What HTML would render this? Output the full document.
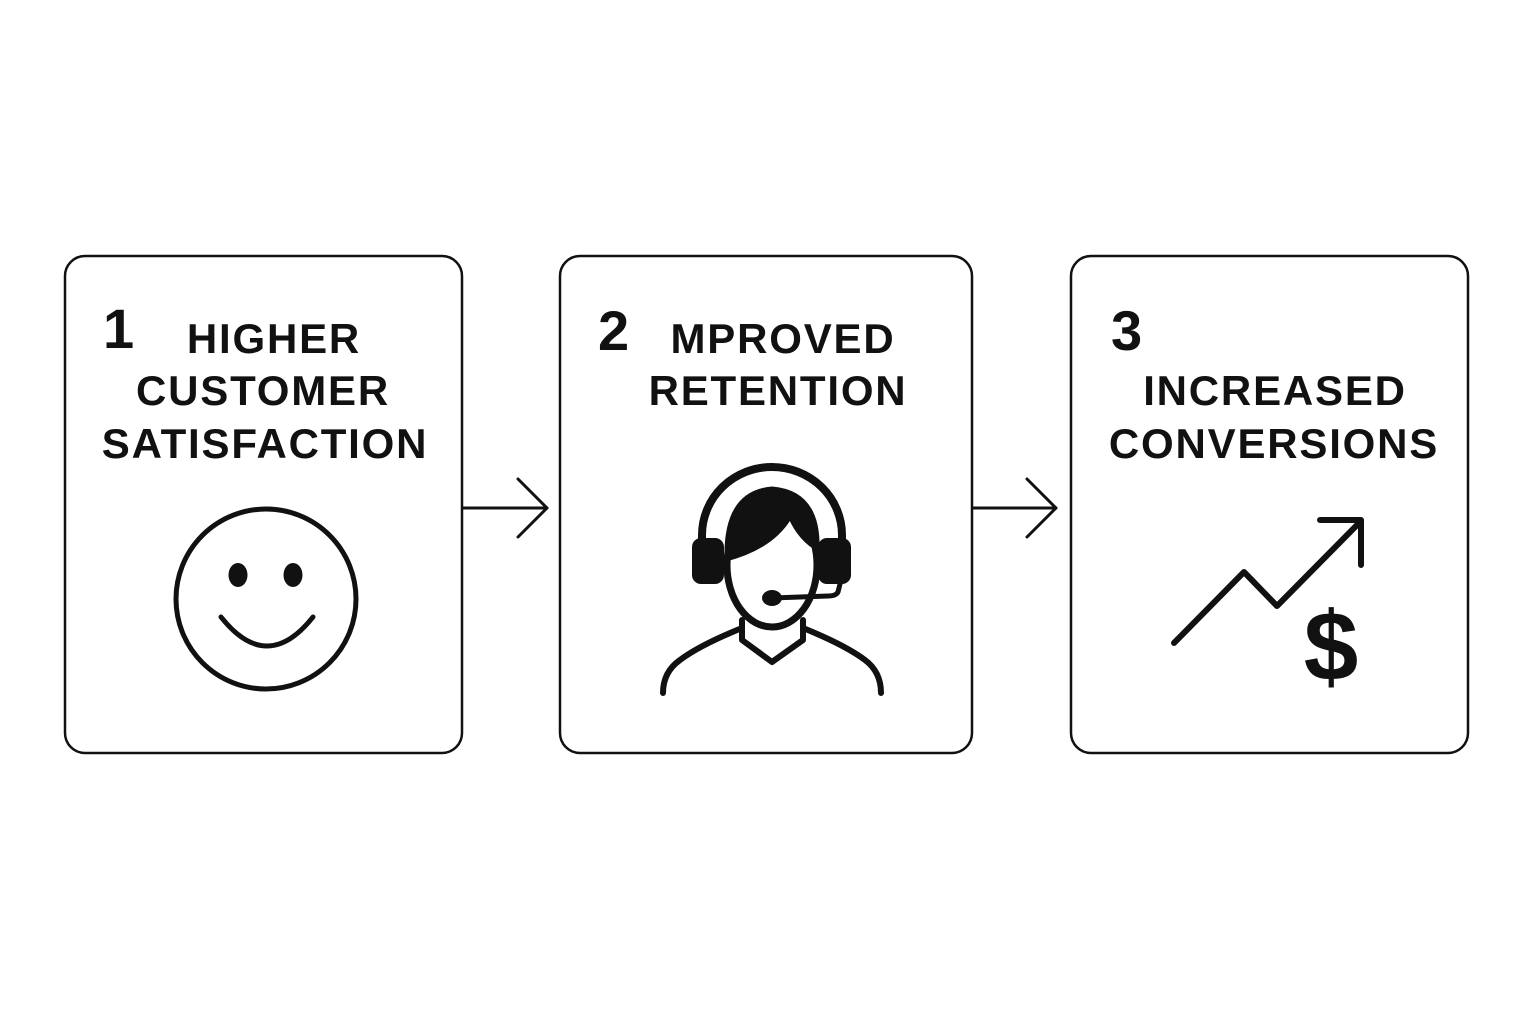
<!DOCTYPE html>
<html><head><meta charset="utf-8"><style>
html,body{margin:0;padding:0;background:#fff;}
svg{display:block;}
text{font-family:"Liberation Sans",Arial,sans-serif;font-weight:bold;fill:#111;}
</style></head><body>
<svg width="1536" height="1024" viewBox="0 0 1536 1024" xmlns="http://www.w3.org/2000/svg">
<rect width="1536" height="1024" fill="#fff"/>
<g fill="none" stroke="#111" stroke-width="2.5">
<rect x="65" y="256" width="397" height="497" rx="20"/>
<rect x="560" y="256" width="412" height="497" rx="20"/>
<rect x="1071" y="256" width="397" height="497" rx="20"/>
</g>
<g fill="none" stroke="#111" stroke-width="3" stroke-linecap="round" stroke-linejoin="round">
<line x1="463" y1="508" x2="547" y2="508"/>
<polyline points="518,479 547,508 518,537"/>
<line x1="973" y1="508" x2="1056" y2="508"/>
<polyline points="1027,479 1056,508 1027,537"/>
</g>
<g font-size="56" style="font-weight:normal">
<text x="103" y="348" style="font-weight:bold">1</text>
<text x="598" y="350" style="font-weight:bold">2</text>
<text x="1111" y="350" style="font-weight:bold">3</text>
</g>
<g font-size="42" text-anchor="middle" letter-spacing="1.8">
<text x="274" y="353">HIGHER</text>
<text x="263" y="405">CUSTOMER</text>
<text x="265" y="458">SATISFACTION</text>
<text x="783" y="353">MPROVED</text>
<text x="778" y="405">RETENTION</text>
<text x="1275" y="405">INCREASED</text>
<text x="1274" y="458">CONVERSIONS</text>
</g>
<circle cx="266" cy="599" r="90" fill="none" stroke="#111" stroke-width="5"/>
<ellipse cx="238" cy="575" rx="9.5" ry="12" fill="#111"/>
<ellipse cx="293" cy="575" rx="9.5" ry="12" fill="#111"/>
<path d="M221,617 Q267,675 313,617" fill="none" stroke="#111" stroke-width="5" stroke-linecap="round"/>
<g stroke="#111" stroke-linecap="round" stroke-linejoin="round">
<path d="M702,545 L702,535 A70,68 0 0 1 842,535 L842,545" fill="none" stroke-width="8"/>
<ellipse cx="772" cy="565" rx="45" ry="62" fill="#fff" stroke-width="7"/>
<path d="M726,560 Q724,492 772,488 Q820,492 818,550 Q800,540 790,518 Q772,548 726,560 Z" fill="#111" stroke-width="3"/>
<rect x="692" y="538" width="32" height="46" rx="9" fill="#111" stroke="none"/>
<rect x="818" y="538" width="33" height="46" rx="9" fill="#111" stroke="none"/>
<path d="M840,584 L838,592 Q836,596 828,596 L772,598" fill="none" stroke-width="5"/>
<ellipse cx="772" cy="598" rx="10" ry="8" fill="#111" stroke="none"/>
<path d="M742,620 L742,640 L772,662 L803,640 L803,620" fill="none" stroke-width="6"/>
<path d="M742,628 Q700,645 680,660 Q663,672 663,693" fill="none" stroke-width="6"/>
<path d="M803,628 Q845,645 865,660 Q881,672 881,693" fill="none" stroke-width="6"/>
</g>
<g fill="none" stroke="#111" stroke-width="6" stroke-linecap="round" stroke-linejoin="round">
<polyline points="1174,643 1244,572 1277,606 1360,522"/>
<polyline points="1320,520 1361,520 1361,565"/>
</g>
<text x="1331" y="680" font-size="98" text-anchor="middle">$</text>
</svg>
</body></html>
